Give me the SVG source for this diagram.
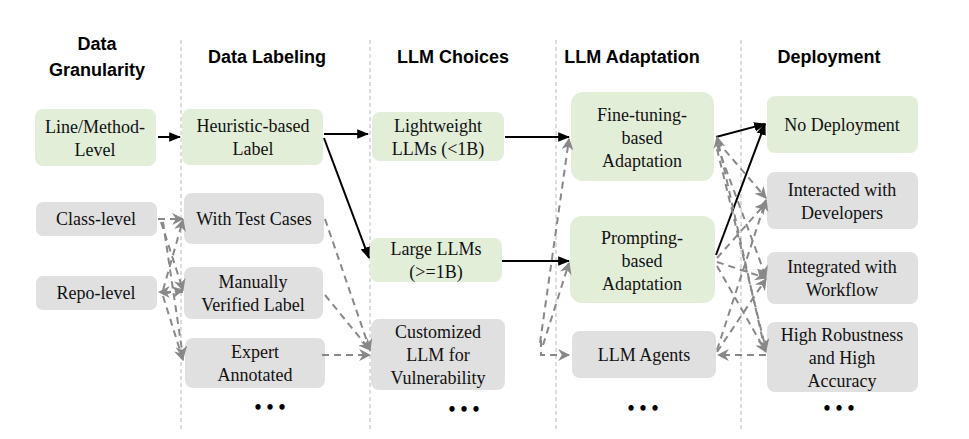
<svg xmlns="http://www.w3.org/2000/svg" width="969" height="439" viewBox="0 0 969 439">
<defs>
<marker id="ab" viewBox="0 0 10 10" refX="9" refY="5" markerWidth="6" markerHeight="6" orient="auto"><path d="M0,1 L10,5 L0,9 z" fill="#000"/></marker>
<marker id="ag" viewBox="0 0 10 10" refX="9" refY="5" markerWidth="6" markerHeight="6" orient="auto"><path d="M0,0 L10,5 L0,10 L3,5 z" fill="#888"/></marker>
</defs>
<style>
.g{fill:#e3eed9}.y{fill:#e0e0e0}
.t{font-family:'Liberation Serif','Times New Roman','DejaVu Serif',serif;font-size:18px;fill:#111;text-anchor:middle}
.h{font-family:'Liberation Sans',Arial,sans-serif;font-weight:bold;font-size:18px;fill:#000;text-anchor:middle}
.div{stroke:#bbb;stroke-dasharray:4,3;stroke-width:1}
.s{stroke:#000;stroke-width:2;fill:none;marker-end:url(#ab)}
.d{stroke:#888;stroke-width:2;stroke-dasharray:7,5;fill:none;marker-end:url(#ag)}
.dots{font-family:'Liberation Serif',serif;font-size:20px;font-weight:bold;text-anchor:middle}
</style>
<rect width="969" height="439" fill="#fff"/>
<g id="dividers">
<line class="div" x1="181" y1="40" x2="181" y2="430"/>
<line class="div" x1="370" y1="40" x2="370" y2="430"/>
<line class="div" x1="556" y1="40" x2="556" y2="430"/>
<line class="div" x1="741" y1="40" x2="741" y2="430"/>
</g>
<g id="headers">
<text class="h" x="97" y="50">Data</text>
<text class="h" x="97" y="76">Granularity</text>
<text class="h" x="267" y="63">Data Labeling</text>
<text class="h" x="453" y="63">LLM Choices</text>
<text class="h" x="632" y="63">LLM Adaptation</text>
<text class="h" x="829" y="63">Deployment</text>
</g>
<g id="n-line"><rect class="g" x="35" y="109" width="121" height="57" rx="8"/><text class="t" x="95" y="133">Line/Method-</text><text class="t" x="95" y="156">Level</text></g>
<g id="n-class"><rect class="y" x="36" y="202" width="121" height="34" rx="7"/><text class="t" x="96" y="225">Class-level</text></g>
<g id="n-repo"><rect class="y" x="36" y="276" width="121" height="34" rx="7"/><text class="t" x="96" y="299">Repo-level</text></g>
<g id="n-heur"><rect class="g" x="182" y="109" width="141" height="56" rx="8"/><text class="t" x="253" y="132">Heuristic-based</text><text class="t" x="253" y="155">Label</text></g>
<g id="n-test"><rect class="y" x="184" y="193" width="140" height="51" rx="8"/><text class="t" x="254" y="225">With Test Cases</text></g>
<g id="n-manual"><rect class="y" x="184" y="267" width="139" height="52" rx="8"/><text class="t" x="253" y="288">Manually</text><text class="t" x="253" y="311">Verified Label</text></g>
<g id="n-expert"><rect class="y" x="185" y="338" width="140" height="50" rx="8"/><text class="t" x="255" y="358">Expert</text><text class="t" x="255" y="381">Annotated</text></g>
<g id="n-light"><rect class="g" x="372" y="112" width="132" height="49" rx="8"/><text class="t" x="438" y="132">Lightweight</text><text class="t" x="438" y="155">LLMs (&lt;1B)</text></g>
<g id="n-large"><rect class="g" x="370" y="238" width="132" height="44" rx="8"/><text class="t" x="436" y="255">Large LLMs</text><text class="t" x="436" y="278">(&gt;=1B)</text></g>
<g id="n-custom"><rect class="y" x="371" y="319" width="134" height="71" rx="8"/><text class="t" x="438" y="338">Customized</text><text class="t" x="438" y="361">LLM for</text><text class="t" x="438" y="384">Vulnerability</text></g>
<g id="n-fine"><rect class="g" x="571" y="92" width="143" height="89" rx="12"/><text class="t" x="642" y="121">Fine-tuning-</text><text class="t" x="642" y="144">based</text><text class="t" x="642" y="167">Adaptation</text></g>
<g id="n-prompt"><rect class="g" x="570" y="216" width="145" height="87" rx="12"/><text class="t" x="642" y="244">Prompting-</text><text class="t" x="642" y="267">based</text><text class="t" x="642" y="290">Adaptation</text></g>
<g id="n-agents"><rect class="y" x="572" y="331" width="144" height="47" rx="8"/><text class="t" x="644" y="361">LLM Agents</text></g>
<g id="n-nodep"><rect class="g" x="767" y="96" width="151" height="57" rx="8"/><text class="t" x="842" y="131">No Deployment</text></g>
<g id="n-inter"><rect class="y" x="767" y="172" width="151" height="57" rx="8"/><text class="t" x="842" y="196">Interacted with</text><text class="t" x="842" y="219">Developers</text></g>
<g id="n-integ"><rect class="y" x="767" y="252" width="151" height="52" rx="8"/><text class="t" x="842" y="273">Integrated with</text><text class="t" x="842" y="296">Workflow</text></g>
<g id="n-robust"><rect class="y" x="767" y="322" width="151" height="70" rx="8"/><text class="t" x="842" y="341">High Robustness</text><text class="t" x="842" y="364">and High</text><text class="t" x="842" y="387">Accuracy</text></g>
<g id="ellipses">
<text class="dots" x="270" y="414">• • •</text>
<text class="dots" x="464" y="416">• • •</text>
<text class="dots" x="643" y="415">• • •</text>
<text class="dots" x="839" y="415">• • •</text>
</g>
<g id="connectors">
<path class="s" d="M158,137 L180,137"/>
<path class="s" d="M324,134 L368,134"/>
<path class="s" d="M324,138 L369,258"/>
<path class="s" d="M505,137 L569,137"/>
<path class="s" d="M502,261 L569,261"/>
<path class="s" d="M716,137 L765,124"/>
<path class="s" d="M716,255 L765,124"/>
<path class="d" d="M158,219 L183,219"/>
<path class="d" d="M161,222 L183,290"/>
<path class="d" d="M163,222 L183,357"/>
<path class="d" d="M163,290 L183,220"/>
<path class="d" d="M183,292 L159,292"/>
<path class="d" d="M163,294 L183,290"/>
<path class="d" d="M163,296 L183,360"/>
<path class="d" d="M325,219 L370,350"/>
<path class="d" d="M325,295 L370,350"/>
<path class="d" d="M322,355 L370,355"/>
<path class="d" d="M540,343 L569,139"/>
<path class="d" d="M543,345 L569,263"/>
<path class="d" d="M541,340 L541,355 L569,355"/>
<path class="d" d="M717,141 L766,198"/>
<path class="d" d="M717,145 L766,277"/>
<path class="d" d="M717,149 L766,350"/>
<path class="d" d="M765,350 L717,137"/>
<path class="d" d="M717,258 L766,203"/>
<path class="d" d="M717,262 L766,278"/>
<path class="d" d="M717,266 L766,352"/>
<path class="d" d="M717,350 L766,200"/>
<path class="d" d="M717,352 L766,279"/>
<path class="d" d="M766,355 L718,355"/>
</g>
</svg>
